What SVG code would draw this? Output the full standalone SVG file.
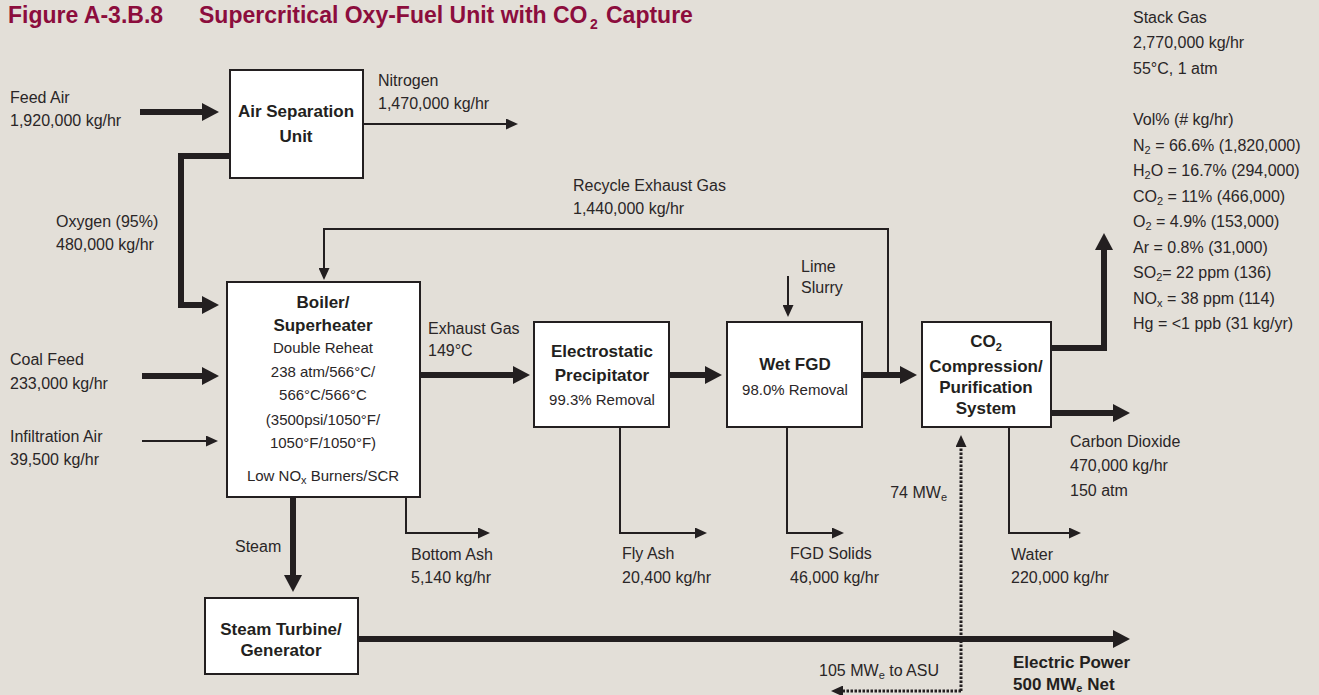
<svg xmlns="http://www.w3.org/2000/svg" width="1319" height="695" viewBox="0 0 1319 695">
<style>
.t{font-family:"Liberation Sans",Arial,sans-serif;font-size:16px;fill:#2a2627}
.bx{font-family:"Liberation Sans",Arial,sans-serif;font-size:15px;fill:#2a2627;text-anchor:middle}
.b{font-family:"Liberation Sans",Arial,sans-serif;font-size:17px;font-weight:bold;fill:#231f20;text-anchor:middle}
.bl{font-family:"Liberation Sans",Arial,sans-serif;font-size:17px;font-weight:bold;fill:#231f20}
.ttl{font-family:"Liberation Sans",Arial,sans-serif;font-size:23px;font-weight:bold;fill:#8c0d3d}
.ttls{font-family:"Liberation Sans",Arial,sans-serif;font-size:14px;font-weight:bold;fill:#8c0d3d}
.sub{font-size:11px}
.node{fill:#fff;stroke:#231f20;stroke-width:2}
.thin{fill:none;stroke:#231f20;stroke-width:2}
.thick{fill:none;stroke:#231f20;stroke-width:6}
.dot{fill:none;stroke:#231f20;stroke-width:3;stroke-dasharray:2.5 1.5}
</style>
<defs>
<marker id="ahB" viewBox="0 0 17 18" refX="3" refY="9" markerWidth="17" markerHeight="18" markerUnits="userSpaceOnUse" orient="auto"><path d="M0,0 L17,9 L0,18 z" fill="#231f20"/></marker>
<marker id="ahS" viewBox="0 0 12 11" refX="2" refY="5.5" markerWidth="12" markerHeight="11" markerUnits="userSpaceOnUse" orient="auto"><path d="M0,0 L12,5.5 L0,11 z" fill="#231f20"/></marker>
</defs>
<rect x="0" y="0" width="1319" height="695" fill="#e3dfd8"/>

<g id="title">
<text class="ttl" x="8" y="23">Figure A-3.B.8</text>
<text class="ttl" x="199" y="23">Supercritical Oxy-Fuel Unit with CO</text>
<text class="ttls" x="590" y="29">2</text>
<text class="ttl" x="606" y="23">Capture</text>
</g>

<g id="connectors">
<line class="thick" x1="140" y1="112" x2="205" y2="112" stroke-width="5" marker-end="url(#ahB)"/>
<line class="thin" x1="363" y1="124" x2="508" y2="124" marker-end="url(#ahS)"/>
<path class="thick" d="M230,156 H181 V305 H205" stroke-width="5" marker-end="url(#ahB)"/>
<path class="thin" d="M888,375 V229 H324 V270" marker-end="url(#ahS)"/>
<line class="thick" x1="142" y1="376" x2="205" y2="376" marker-end="url(#ahB)"/>
<line class="thin" x1="142" y1="441" x2="208" y2="441" marker-end="url(#ahS)"/>
<line class="thick" x1="420" y1="375" x2="516" y2="375" marker-end="url(#ahB)"/>
<line class="thick" x1="668" y1="375" x2="708" y2="375" marker-end="url(#ahB)"/>
<line class="thick" x1="861" y1="375" x2="903" y2="375" marker-end="url(#ahB)"/>
<line class="thin" x1="788" y1="276" x2="788" y2="307" marker-end="url(#ahS)"/>
<path class="thick" d="M1051,348 H1104 V247" stroke-width="7" marker-end="url(#ahB)"/>
<line class="thick" x1="1051" y1="413" x2="1116" y2="413" marker-end="url(#ahB)"/>
<path class="thin" d="M1009,427 V533 H1071" marker-end="url(#ahS)"/>
<path class="thin" d="M620,427 V533 H697" marker-end="url(#ahS)"/>
<path class="thin" d="M787,427 V533 H834" marker-end="url(#ahS)"/>
<path class="thin" d="M406,497 V533 H480" marker-end="url(#ahS)"/>
<line class="thick" x1="293" y1="497" x2="293" y2="578" stroke-width="5" marker-end="url(#ahB)"/>
<line class="thick" x1="357" y1="639" x2="1116" y2="639" stroke-width="6.5" marker-end="url(#ahB)"/>
<path class="dot" d="M961,691 V445" marker-end="url(#ahS)"/>
<path class="dot" d="M961,691 H841" marker-end="url(#ahS)"/>
</g>

<g id="asu">
<rect class="node" x="230" y="70" width="133" height="108"/>
<text class="b" x="296" y="117">Air Separation</text>
<text class="b" x="296" y="142">Unit</text>
</g>

<g id="boiler">
<rect class="node" x="227" y="282" width="193" height="215"/>
<text class="b" x="323" y="308">Boiler/</text>
<text class="b" x="323" y="331">Superheater</text>
<text class="bx" x="323" y="353">Double Reheat</text>
<text class="bx" x="323" y="377">238 atm/566°C/</text>
<text class="bx" x="323" y="400">566°C/566°C</text>
<text class="bx" x="323" y="425">(3500psi/1050°F/</text>
<text class="bx" x="323" y="448">1050°F/1050°F)</text>
<text class="bx" x="323" y="481">Low NO<tspan class="sub" dy="3">x</tspan><tspan dy="-3"> Burners/SCR</tspan></text>
</g>

<g id="esp">
<rect class="node" x="534" y="322" width="135" height="105"/>
<text class="b" x="602" y="357">Electrostatic</text>
<text class="b" x="602" y="381">Precipitator</text>
<text class="bx" x="602" y="405">99.3% Removal</text>
</g>

<g id="fgd">
<rect class="node" x="727" y="322" width="135" height="105"/>
<text class="b" x="795" y="370">Wet FGD</text>
<text class="bx" x="795" y="395">98.0% Removal</text>
</g>

<g id="co2">
<rect class="node" x="922" y="322" width="129" height="105"/>
<text class="b" x="986" y="347">CO<tspan class="sub" dy="4">2</tspan></text>
<text class="b" x="986" y="372">Compression/</text>
<text class="b" x="986" y="393">Purification</text>
<text class="b" x="986" y="414">System</text>
</g>

<g id="turbine">
<rect class="node" x="205" y="598" width="153" height="76"/>
<text class="b" x="281" y="635">Steam Turbine/</text>
<text class="b" x="281" y="656">Generator</text>
</g>

<g id="labels">
<text class="t" x="10" y="103">Feed Air</text>
<text class="t" x="10" y="126">1,920,000 kg/hr</text>
<text class="t" x="378" y="86">Nitrogen</text>
<text class="t" x="378" y="109">1,470,000 kg/hr</text>
<text class="t" x="56" y="227">Oxygen (95%)</text>
<text class="t" x="56" y="250">480,000 kg/hr</text>
<text class="t" x="573" y="191">Recycle Exhaust Gas</text>
<text class="t" x="573" y="214">1,440,000 kg/hr</text>
<text class="t" x="801" y="272">Lime</text>
<text class="t" x="801" y="293">Slurry</text>
<text class="t" x="428" y="334">Exhaust Gas</text>
<text class="t" x="428" y="356">149°C</text>
<text class="t" x="10" y="365">Coal Feed</text>
<text class="t" x="10" y="389">233,000 kg/hr</text>
<text class="t" x="10" y="442">Infiltration Air</text>
<text class="t" x="10" y="465">39,500 kg/hr</text>
<text class="t" x="235" y="552">Steam</text>
<text class="t" x="411" y="560">Bottom Ash</text>
<text class="t" x="411" y="583">5,140 kg/hr</text>
<text class="t" x="622" y="559">Fly Ash</text>
<text class="t" x="622" y="583">20,400 kg/hr</text>
<text class="t" x="790" y="559">FGD Solids</text>
<text class="t" x="790" y="583">46,000 kg/hr</text>
<text class="t" x="1011" y="560">Water</text>
<text class="t" x="1011" y="583">220,000 kg/hr</text>
<text class="t" x="1070" y="447">Carbon Dioxide</text>
<text class="t" x="1070" y="471">470,000 kg/hr</text>
<text class="t" x="1070" y="496">150 atm</text>
<text class="t" x="947" y="498" text-anchor="end">74 MW<tspan class="sub" dy="3">e</tspan></text>
<text class="t" x="939" y="676" text-anchor="end">105 MW<tspan class="sub" dy="3">e</tspan><tspan dy="-3"> to ASU</tspan></text>
<text class="bl" x="1013" y="668">Electric Power</text>
<text class="bl" x="1013" y="690">500 MW<tspan class="sub" dy="2">e</tspan><tspan dy="-2"> Net</tspan></text>
</g>

<g id="stack-gas">
<text class="t" x="1133" y="23">Stack Gas</text>
<text class="t" x="1133" y="48">2,770,000 kg/hr</text>
<text class="t" x="1133" y="74">55°C, 1 atm</text>
<text class="t" x="1133" y="125">Vol% (# kg/hr)</text>
<text class="t" x="1133" y="151">N<tspan class="sub" dy="3">2</tspan><tspan dy="-3"> = 66.6% (1,820,000)</tspan></text>
<text class="t" x="1133" y="176">H<tspan class="sub" dy="3">2</tspan><tspan dy="-3">O = 16.7% (294,000)</tspan></text>
<text class="t" x="1133" y="202">CO<tspan class="sub" dy="3">2</tspan><tspan dy="-3"> = 11% (466,000)</tspan></text>
<text class="t" x="1133" y="227">O<tspan class="sub" dy="3">2</tspan><tspan dy="-3"> = 4.9% (153,000)</tspan></text>
<text class="t" x="1133" y="253">Ar = 0.8% (31,000)</text>
<text class="t" x="1133" y="278">SO<tspan class="sub" dy="3">2</tspan><tspan dy="-3">= 22 ppm (136)</tspan></text>
<text class="t" x="1133" y="304">NO<tspan class="sub" dy="3">x</tspan><tspan dy="-3"> = 38 ppm (114)</tspan></text>
<text class="t" x="1133" y="329">Hg = &lt;1 ppb (31 kg/yr)</text>
</g>
</svg>
